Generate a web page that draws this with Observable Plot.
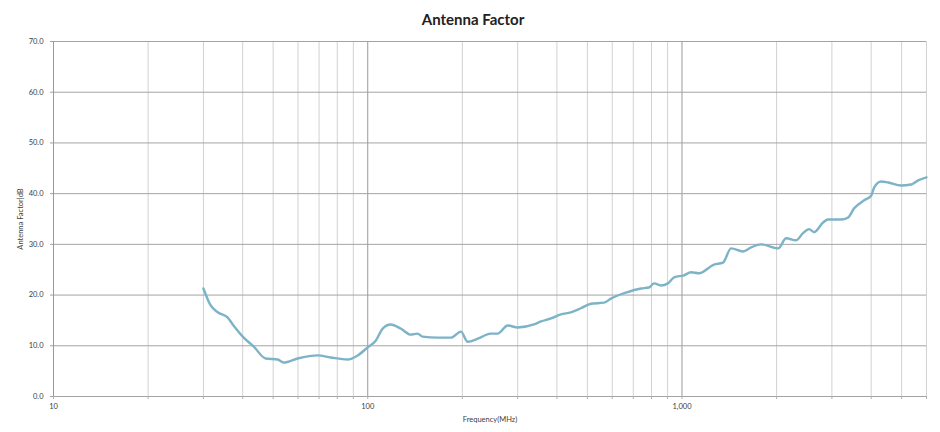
<!DOCTYPE html>
<html>
<head>
<meta charset="utf-8">
<script src="https://cdn.jsdelivr.net/npm/d3@7"></script>
<script src="https://cdn.jsdelivr.net/npm/@observablehq/plot@0.6"></script>
<style>
  body { margin: 0; background: #fff; font-family: Lato, "Open Sans", sans-serif; }
  #title { height: 32px; line-height: 38px; text-align: center; font-weight: bold; font-size: 15px; color: #222; padding-left: 6px; }
  svg { display: block; }
</style>
</head>
<body>
<div id="title">Antenna Factor</div>
<div id="chart"></div>
<script>
const freqMHz = [30.0, 31.6, 33.3, 35.8, 37.4, 40.3, 43.3, 47.3, 51.7, 54.0, 59.8, 69.3, 76.2, 86.3, 92.9,
  100, 106, 111.6, 118.3, 127.3, 137, 144, 149.5, 167, 184, 198, 208, 224, 246, 259, 279, 300, 338, 356,
  383, 412, 443, 477, 513, 565, 594, 664, 740, 785, 815, 857, 902, 944, 1015, 1069, 1133, 1264, 1351,
  1433, 1564, 1660, 1786, 2024, 2145, 2307, 2428, 2538, 2633, 2811, 2916, 3208, 3378, 3531, 3800, 4000,
  4087, 4303, 4529, 4980, 5357, 5645, 6000];
const antennaFactorDb = [21.3, 18.0, 16.6, 15.6, 14.0, 11.6, 9.9, 7.5, 7.3, 6.7, 7.5, 8.1, 7.7, 7.3, 8.1,
  9.7, 11.0, 13.4, 14.2, 13.4, 12.2, 12.4, 11.8, 11.6, 11.6, 12.8, 10.8, 11.4, 12.4, 12.4, 14.0, 13.6, 14.2, 14.8,
  15.4, 16.2, 16.6, 17.4, 18.3, 18.5, 19.3, 20.5, 21.3, 21.5, 22.3, 21.9, 22.3, 23.5, 23.9, 24.5, 24.3, 26.0, 26.4,
  29.2, 28.6, 29.4, 30.0, 29.2, 31.2, 30.8, 32.2, 33.0, 32.4, 34.3, 34.9, 34.9, 35.3, 37.1, 38.7, 39.6,
  41.2, 42.4, 42.2, 41.6, 41.8, 42.6, 43.2];
const xTickLabels = [10, 100, 1000];
const majorGrid = [100, 1000];
const minorGrid = [20, 30, 40, 50, 60, 70, 80, 90, 200, 300, 400, 500, 600, 700, 800, 900, 2000, 3000, 4000, 5000, 6000];
const yTicks = [0, 10, 20, 30, 40, 50, 60, 70];

const data = freqMHz.map((f, i) => ({f, v: antennaFactorDb[i]}));
const allX = [10, ...minorGrid, ...majorGrid];

const chart = Plot.plot({
  width: 940,
  height: 400,
  marginTop: 9,
  marginBottom: 36,
  marginLeft: 53,
  marginRight: 14,
  style: {fontFamily: "Lato, 'Open Sans', sans-serif", fontSize: "7.5px", color: "#404040", background: "#fff"},
  x: {type: "log", domain: [10, 6000]},
  y: {domain: [0, 70]},
  marks: [
    Plot.ruleX(minorGrid, {stroke: "#d2d2d2", strokeWidth: 1}),
    Plot.ruleX(majorGrid, {stroke: "#9a9a9a", strokeWidth: 1}),
    Plot.ruleY(yTicks, {stroke: "#a3a3a3", strokeWidth: 1}),
    Plot.ruleX([10], {stroke: "#9a9a9a", strokeWidth: 1}),
    Plot.axisX({ticks: allX, tickSize: 3, tickFormat: () => "", label: null, stroke: "#b0b0b0"}),
    Plot.axisX({ticks: xTickLabels, tickSize: 0, tickPadding: 7, tickFormat: d3.format(","),
      label: "Frequency(MHz)", labelAnchor: "center", labelArrow: "none", labelOffset: 25, fill: "#404040"}),
    Plot.axisY({ticks: yTicks, tickSize: 3, tickPadding: 7, tickFormat: d => d.toFixed(1),
      label: "Antenna Factor|dB", labelAnchor: "center", labelArrow: "none", labelOffset: 36, stroke: "#a0a0a0", fill: "#404040"}),
    Plot.line(data, {x: "f", y: "v", stroke: "#7db3c7", strokeWidth: 2.4, curve: "monotone-x"})
  ]
});
document.getElementById("chart").appendChild(chart);
</script>
</body>
</html>
